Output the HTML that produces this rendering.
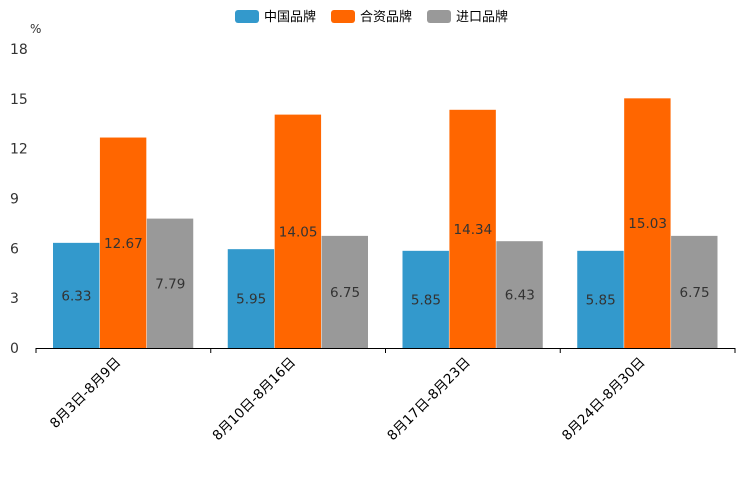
<!DOCTYPE html>
<html><head><meta charset="utf-8"><style>
body{margin:0;background:#fff;}
svg{display:block;font-family:"DejaVu Sans","Liberation Sans","Noto Sans CJK SC",sans-serif;}
</style></head><body>
<svg id="chart" width="744" height="496">
<g id="legend"></g>
<g id="axes"></g>
<g id="bars"></g>
</svg>
<script>
const categories = ["8月3日-8月9日","8月10日-8月16日","8月17日-8月23日","8月24日-8月30日"];
const seriesNames = ["中国品牌","合资品牌","进口品牌"];
const chinaValues = [6.33,5.95,5.85,5.85];
const jvValues = [12.67,14.05,14.34,15.03];
const importValues = [7.79,6.75,6.43,6.75];
const yTicks = [0,3,6,9,12,15,18];
const colors = ["#3399cc","#ff6600","#999999"];

const NS="http://www.w3.org/2000/svg";
const X0=36,X1=735,Y0=348,Y1=49,YMAX=18;
const y=v=>Y0-(v/YMAX)*(Y0-Y1);
const gw=(X1-X0)/categories.length;
const pad=17,bw=(gw-2*pad)/3;
function mk(tag,attrs,parent,text){const e=document.createElementNS(NS,tag);for(const k in attrs)e.setAttribute(k,attrs[k]);if(text!==undefined)e.textContent=text;parent.appendChild(e);return e;}
const axes=document.getElementById('axes'),bars=document.getElementById('bars'),legend=document.getElementById('legend');
let u=mk('text',{x:30,y:33,'font-size':12,fill:'#333'},axes,'%');


yTicks.forEach(t=>{const e=mk('text',{x:10,y:y(t)+5,'font-size':14,fill:'#333'},axes,String(t));

});
let ax=mk('line',{x1:X0,x2:X1,y1:Y0+0.5,y2:Y0+0.5,stroke:'#000'},axes);


for(let i=0;i<=categories.length;i++){mk('line',{x1:X0+i*gw,x2:X0+i*gw,y1:Y0,y2:Y0+5,stroke:'#000'},axes);}
const series=[chinaValues,jvValues,importValues];
categories.forEach((c,i)=>{
  const gx=X0+i*gw;
  series.forEach((vals,s)=>{
    const v=vals[i],bx=gx+pad+s*bw;
    const r=mk('rect',{x:bx,y:y(v),width:bw-0.5,height:Y0-y(v),fill:colors[s]},bars);
    
    
    const t=mk('text',{x:bx+bw/2,y:(y(v)+Y0)/2+5,'font-size':13.5,fill:'#333','text-anchor':'middle'},bars,v.toFixed(2));
    
    
  });
  const cx=gx+gw/2-2,cy=Y0+15;
  const l=mk('text',{x:cx,y:cy,'font-size':13.5,fill:'#000','text-anchor':'end',transform:`rotate(-45 ${cx} ${cy})`},axes,c);
  
  
});
const lx=[235,331,427];
seriesNames.forEach((n,s)=>{
  const r=mk('rect',{x:lx[s],y:10,width:24,height:13,rx:3,fill:colors[s]},legend);
  
  
  const t=mk('text',{x:lx[s]+29,y:21,'font-size':13,fill:'#000'},legend,n);
  
  
});
</script>
</body></html>
